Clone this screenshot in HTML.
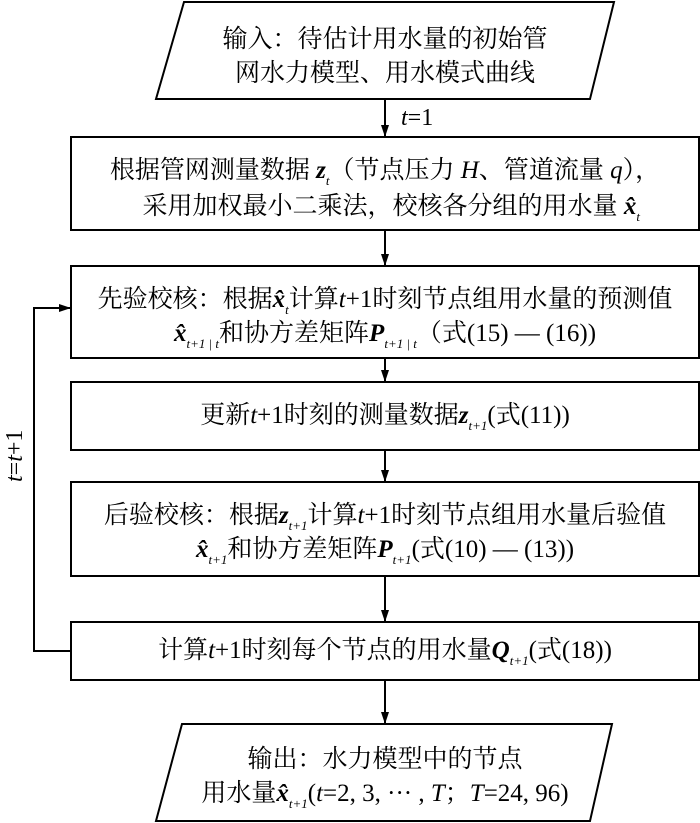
<!DOCTYPE html>
<html><head><meta charset="utf-8"><style>
body{margin:0;width:700px;height:823px;background:#fff;position:relative;overflow:hidden;font-family:"Liberation Serif","Noto Serif CJK SC",serif;color:#000}
.t{position:absolute;left:35px;width:700px;text-align:center;font-size:25px;line-height:36px;white-space:nowrap}
i{font-style:italic}
b{font-style:italic;font-weight:bold}
sub{font-size:13px;font-style:italic;vertical-align:-7px}
</style></head><body>
<svg width="700" height="823" style="position:absolute;left:0;top:0">
<defs><marker id="a" markerWidth="12" markerHeight="10" refX="11" refY="5" orient="auto" markerUnits="userSpaceOnUse"><path d="M0,1 L12,5 L0,9 Z" fill="#000"/></marker></defs>
<g fill="none" stroke="#000" stroke-width="2">
<polygon points="184,2 614,2 590,99 156,99"/>
<rect x="71" y="137" width="628" height="93"/>
<rect x="71" y="266" width="628" height="92"/>
<rect x="71" y="382" width="628" height="68"/>
<rect x="71" y="482" width="628" height="94"/>
<rect x="71" y="622" width="628" height="58"/>
<polygon points="182,724 612,724 590,821 156,821"/>
<line x1="385" y1="99" x2="385" y2="136" marker-end="url(#a)"/>
<line x1="385" y1="230" x2="385" y2="265" marker-end="url(#a)"/>
<line x1="385" y1="358" x2="385" y2="381" marker-end="url(#a)"/>
<line x1="385" y1="450" x2="385" y2="481" marker-end="url(#a)"/>
<line x1="385" y1="576" x2="385" y2="621" marker-end="url(#a)"/>
<line x1="385" y1="680" x2="385" y2="723" marker-end="url(#a)"/>
<polyline points="71,651 34,651 34,308 70,308" marker-end="url(#a)"/>
</g>
<text x="0" y="0" transform="translate(22,482) rotate(-90)" font-size="24" font-family="Liberation Serif,serif"><tspan font-style="italic">t</tspan>=<tspan font-style="italic">t</tspan>+1</text>
</svg>
<div class="t" style="top:22px">输入：待估计用水量的初始管</div>
<div class="t" style="top:56px">网水力模型、用水模式曲线</div>
<div class="t" style="left:401px;width:auto;top:100px;font-size:24px"><i>t</i>=1</div>
<div class="t" style="top:153px">根据管网测量数据 <b>z</b><sub>t</sub>（节点压力 <i>H</i>、管道流量 <i>q</i>），</div>
<div class="t" style="top:189px">&nbsp;&nbsp;采用加权最小二乘法，校核各分组的用水量 <b>x̂</b><sub>t</sub></div>
<div class="t" style="top:282px">先验校核：根据<b>x̂</b><sub>t</sub>计算<i>t</i>+1时刻节点组用水量的预测值</div>
<div class="t" style="top:316px"><b>x̂</b><sub>t+1 | t</sub>和协方差矩阵<b>P</b><sub>t+1 | t</sub>（式(15) — (16))</div>
<div class="t" style="top:398px">更新<i>t</i>+1时刻的测量数据<b>z</b><sub>t+1</sub>(式(11))</div>
<div class="t" style="top:498px">后验校核：根据<b>z</b><sub>t+1</sub>计算<i>t</i>+1时刻节点组用水量后验值</div>
<div class="t" style="top:532px"><b>x̂</b><sub>t+1</sub>和协方差矩阵<b>P</b><sub>t+1</sub>(式(10) — (13))</div>
<div class="t" style="top:633px">计算<i>t</i>+1时刻每个节点的用水量<b>Q</b><sub>t+1</sub>(式(18))</div>
<div class="t" style="top:742px">输出：水力模型中的节点</div>
<div class="t" style="top:776px">用水量<b>x̂</b><sub>t+1</sub>(<i>t</i>=2, 3, ··· , <i>T</i>；<i>T</i>=24, 96)</div>
</body></html>
